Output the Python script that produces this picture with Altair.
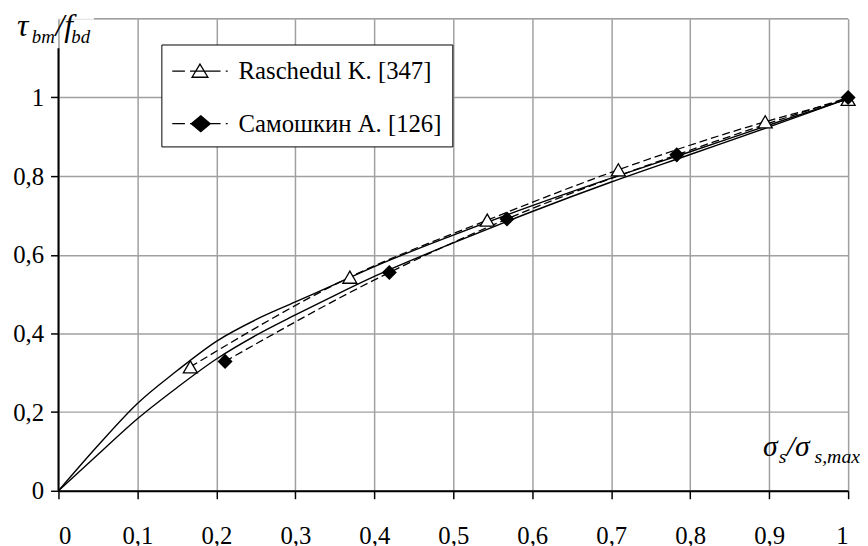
import altair as alt
import pandas as pd

# ---- data ----
x_grid = [0, 0.05, 0.1, 0.15, 0.2, 0.25, 0.3, 0.35, 0.4, 0.5, 0.6, 0.7, 0.8, 0.9, 1.0]
solid_upper = [0, 0.115, 0.222, 0.305, 0.38, 0.435, 0.48, 0.525, 0.57, 0.65, 0.725, 0.795, 0.862, 0.93, 0.997]
solid_lower = [0, 0.092, 0.183, 0.262, 0.335, 0.395, 0.447, 0.497, 0.545, 0.63, 0.71, 0.785, 0.855, 0.925, 0.997]

tri_x = [0.167, 0.369, 0.543, 0.709, 0.895, 1.0]
tri_y = [0.315, 0.543, 0.688, 0.816, 0.938, 0.995]
dia_x = [0.211, 0.419, 0.568, 0.783, 1.0]
dia_y = [0.329, 0.555, 0.691, 0.854, 1.0]

series_names = ["Raschedul K. [347]", "Самошкин А. [126]"]
x_ticks = [0, 0.1, 0.2, 0.3, 0.4, 0.5, 0.6, 0.7, 0.8, 0.9, 1.0]
y_ticks = [0, 0.2, 0.4, 0.6, 0.8, 1.0]

FONT = "Liberation Serif, Times New Roman, serif"

solid_df = pd.DataFrame({
    "x": x_grid * 2,
    "y": solid_upper + solid_lower,
    "curve": ["s1"] * len(x_grid) + ["s2"] * len(x_grid),
})
dash_df = pd.DataFrame({
    "x": tri_x + dia_x,
    "y": tri_y + dia_y,
    "curve": ["d1"] * len(tri_x) + ["d2"] * len(dia_x),
})
tri_df = pd.DataFrame({"x": tri_x, "y": tri_y})
dia_df = pd.DataFrame({"x": dia_x, "y": dia_y})
legend_df = pd.DataFrame({"x": [0.5, 0.5], "y": [0.5, 0.5], "series": series_names})

xs = alt.Scale(domain=[0, 1], nice=False, zero=False)
ys = alt.Scale(domain=[0, 1.2], nice=False, zero=False)

lab_expr = "replace(format(datum.value, '~g'), '.', ',')"

x_axis = alt.Axis(values=x_ticks, labelExpr=lab_expr, title=None, grid=True,
                  gridColor="#a0a0a0", gridWidth=1.5, domainColor="black", domainWidth=2,
                  tickColor="black", tickWidth=1.5, tickSize=8, labelPadding=25,
                  labelFont=FONT, labelFontSize=25, labelColor="black")
y_axis = alt.Axis(values=y_ticks, labelExpr=lab_expr, title=None, grid=True,
                  gridColor="#a0a0a0", gridWidth=1.5, domain=False,
                  tickColor="black", tickWidth=1.5, tickSize=8, labelPadding=7,
                  labelFont=FONT, labelFontSize=25, labelColor="black")

solid = alt.Chart(solid_df).mark_line(color="black", strokeWidth=1.4, interpolate="monotone").encode(
    x=alt.X("x:Q", scale=xs, axis=x_axis),
    y=alt.Y("y:Q", scale=ys, axis=y_axis),
    detail="curve:N",
)

dashed = alt.Chart(dash_df).mark_line(color="black", strokeWidth=1.3, strokeDash=[8, 4],
                                      interpolate="monotone").encode(
    x=alt.X("x:Q", scale=xs), y=alt.Y("y:Q", scale=ys), detail="curve:N")

tri = alt.Chart(tri_df).mark_point(shape="triangle-up", size=200, fill="white", filled=False,
                                   stroke="black", strokeWidth=1.3, opacity=1).encode(
    x=alt.X("x:Q", scale=xs), y=alt.Y("y:Q", scale=ys))
dia = alt.Chart(dia_df).mark_point(shape="diamond", size=230, filled=True, color="black",
                                   opacity=1).encode(
    x=alt.X("x:Q", scale=xs), y=alt.Y("y:Q", scale=ys))

# top border line and y axis line (shortened as in the picture)
top_line = alt.Chart(pd.DataFrame({"x": [0.045], "x2": [1.0], "y": [1.2]})).mark_rule(
    color="#a0a0a0", strokeWidth=1.5).encode(
    x=alt.X("x:Q", scale=xs), x2="x2:Q", y=alt.Y("y:Q", scale=ys))
y_line = alt.Chart(pd.DataFrame({"x": [0.0], "y": [0.0], "y2": [1.125]})).mark_rule(
    color="black", strokeWidth=2).encode(
    x=alt.X("x:Q", scale=xs), y=alt.Y("y:Q", scale=ys), y2="y2:Q")

dash_part = "M-1,0H-0.2M0.12,0H2.05M2.38,0H2.5"
tri_path = dash_part + "M0.75,-0.45L1.25,0.38L0.25,0.38Z"
dia_path = dash_part + "M0.8,-0.5L1.4,0L0.8,0.5L0.2,0Z"

leg = dict(title=None, orient="none", legendX=104, legendY=26,
           padding=10, rowPadding=23, labelOffset=34,
           symbolSize=1024, symbolOpacity=1, symbolStrokeColor="black",
           symbolStrokeWidth=1.3, labelFont=FONT, labelFontSize=25,
           labelColor="black", strokeColor="black", fillColor="white", labelLimit=400)

legend_layer = alt.Chart(legend_df).mark_point(opacity=0, filled=False, size=1024).encode(
    x=alt.X("x:Q", scale=xs), y=alt.Y("y:Q", scale=ys),
    shape=alt.Shape("series:N", scale=alt.Scale(domain=series_names, range=[tri_path, dia_path]),
                    legend=alt.Legend(**leg)),
    fill=alt.Fill("series:N", scale=alt.Scale(domain=series_names, range=["white", "black"]),
                  legend=alt.Legend(**leg)),
    stroke=alt.Stroke("series:N", scale=alt.Scale(domain=series_names, range=["black", "black"]),
                      legend=alt.Legend(**leg)),
)

# axis titles as text pieces
def txt(df, text, dx, dy, size):
    return alt.Chart(df).mark_text(text=text, font=FONT, fontSize=size, fontStyle="italic",
                                   align="left", baseline="alphabetic", dx=dx, dy=dy,
                                   color="black").encode(
        x=alt.X("x:Q", scale=xs), y=alt.Y("y:Q", scale=ys))

ytitle_df = pd.DataFrame({"x": [0.0], "y": [1.2]})
yt = [
    txt(ytitle_df, "τ", -42, 17, 32),
    txt(ytitle_df, "bm", -27, 24, 19),
    txt(ytitle_df, "/f", -3, 17, 32),
    txt(ytitle_df, "bd", 13, 24, 19),
]
xtitle_df = pd.DataFrame({"x": [1.0], "y": [0.0]})
xt = [
    txt(xtitle_df, "σ", -86, -35, 30),
    txt(xtitle_df, "s", -70, -28, 20),
    txt(xtitle_df, "/σ", -62, -35, 30),
    txt(xtitle_df, "s,max", -34, -28, 20),
]

chart = alt.layer(top_line, solid, dashed, y_line, tri, dia, legend_layer, *yt, *xt).resolve_scale(
    shape="independent", fill="independent", stroke="independent"
).properties(
    width=798, height=477,
    autosize=alt.AutoSizeParams(type="none"),
    padding={"left": 51, "top": 8, "right": 12, "bottom": 62},
).configure_view(stroke=None).configure(background="white")

chart.save("out.html", embed_options={"renderer": "svg", "actions": False})
